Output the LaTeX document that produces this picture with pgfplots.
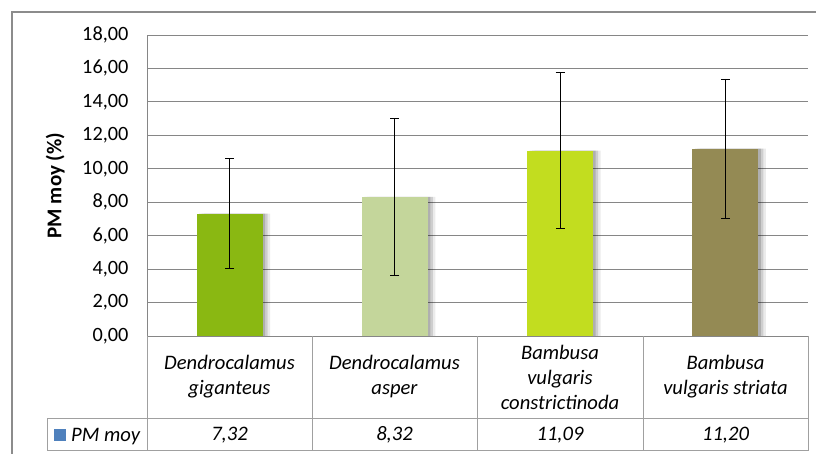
\documentclass[border=0pt]{standalone}
\usepackage{pgfplots}
\pgfplotsset{compat=1.18}
\usepackage{fontspec}
\setmainfont{Carlito}
\definecolor{c1}{HTML}{8AB812}
\definecolor{c2}{HTML}{C4D69B}
\definecolor{c3}{HTML}{C2DD1F}
\definecolor{c4}{HTML}{948A54}
\definecolor{gridgray}{HTML}{868686}
\definecolor{tabgray}{HTML}{A0A0A0}
\definecolor{bordergray}{HTML}{8C8C8C}
\definecolor{legblue}{HTML}{4F81BD}
\pgfplotsset{mybar/.style={ybar, bar width=0.4, draw=none,
  error bars/.cd, y dir=both, y explicit,
  error bar style={black, line width=0.8pt},
  error mark options={rotate=90, mark size=4.5pt, black, line width=0.8pt},
  /pgfplots/.cd}}
\begin{document}
\begin{tikzpicture}[x=1pt,y=1pt]
\useasboundingbox (0,0) rectangle (816,454);
\draw[bordergray, line width=2pt] (12,-5) -- (12,442) -- (830,442);
\begin{axis}[at={(147pt,118pt)}, anchor=south west, scale only axis,
  width=661pt, height=301pt, xmin=0, xmax=4, ymin=0, ymax=18,
  ytick={0,2,...,18}, xtick=\empty, ymajorgrids,
  grid style={color=gridgray, line width=0.9pt},
  axis x line*=bottom, axis y line*=left,
  axis line style={color=gridgray, line width=0.9pt, -},
  major tick length=0pt, clip=false,
  /pgf/number format/.cd, fixed, fixed zerofill, precision=2, use comma, assume math mode=true,
  /pgfplots/.cd,
  yticklabel style={font=\fontsize{20.3}{24}\selectfont, xshift=-15pt},
  ylabel={\bfseries PM moy (\%)},
  every axis y label/.style={at={(axis description cs:-0.139,0.5)}, rotate=90, anchor=center, font=\fontsize{21}{25}\selectfont},
]
% shadows
\addplot[ybar, bar width=0.4, bar shift=0.045, fill=black, fill opacity=0.08, draw=none] coordinates {(0.5,7.32) (1.5,8.32) (2.5,11.09) (3.5,11.20)};
\addplot[ybar, bar width=0.4, bar shift=0.03, fill=black, fill opacity=0.12, draw=none] coordinates {(0.5,7.32) (1.5,8.32) (2.5,11.09) (3.5,11.20)};
\addplot[ybar, bar width=0.4, bar shift=0.015, fill=black, fill opacity=0.15, draw=none] coordinates {(0.5,7.32) (1.5,8.32) (2.5,11.09) (3.5,11.20)};
% bars
\addplot[mybar, fill=c1] coordinates {(0.5,7.32) +- (0,3.30)};
\addplot[mybar, fill=c2] coordinates {(1.5,8.32) +- (0,4.70)};
\addplot[mybar, fill=c3] coordinates {(2.5,11.09) +- (0,4.67)};
\addplot[mybar, fill=c4] coordinates {(3.5,11.20) +- (0,4.17)};
\end{axis}
% data table
\begin{scope}[tabgray, line width=1pt]
\draw (147,118) -- (147,3);
\draw (312,118) -- (312,3);
\draw (477,118) -- (477,3);
\draw (643,118) -- (643,3);
\draw (808,118) -- (808,3);
\draw (47,35) -- (808,35);
\draw (47,3) -- (808,3);
\draw (47,35) -- (47,3);
\end{scope}
\begin{scope}[every node/.style={font=\fontsize{20.6}{25}\selectfont\itshape, align=center, inner sep=0pt}]
\node at (229.5,77) {Dendrocalamus\\giganteus};
\node at (394.5,77) {Dendrocalamus\\asper};
\node at (560,77) {Bambusa\\vulgaris\\constrictinoda};
\node at (725.5,77) {Bambusa\\vulgaris striata};
\node at (229.5,19) {7,32};
\node at (394.5,19) {8,32};
\node at (560,19) {11,09};
\node at (725.5,19) {11,20};
\node[anchor=base west] at (71,12) {PM moy};
\end{scope}
\fill[legblue] (54,13) rectangle (66,25);
\end{tikzpicture}
\end{document}
